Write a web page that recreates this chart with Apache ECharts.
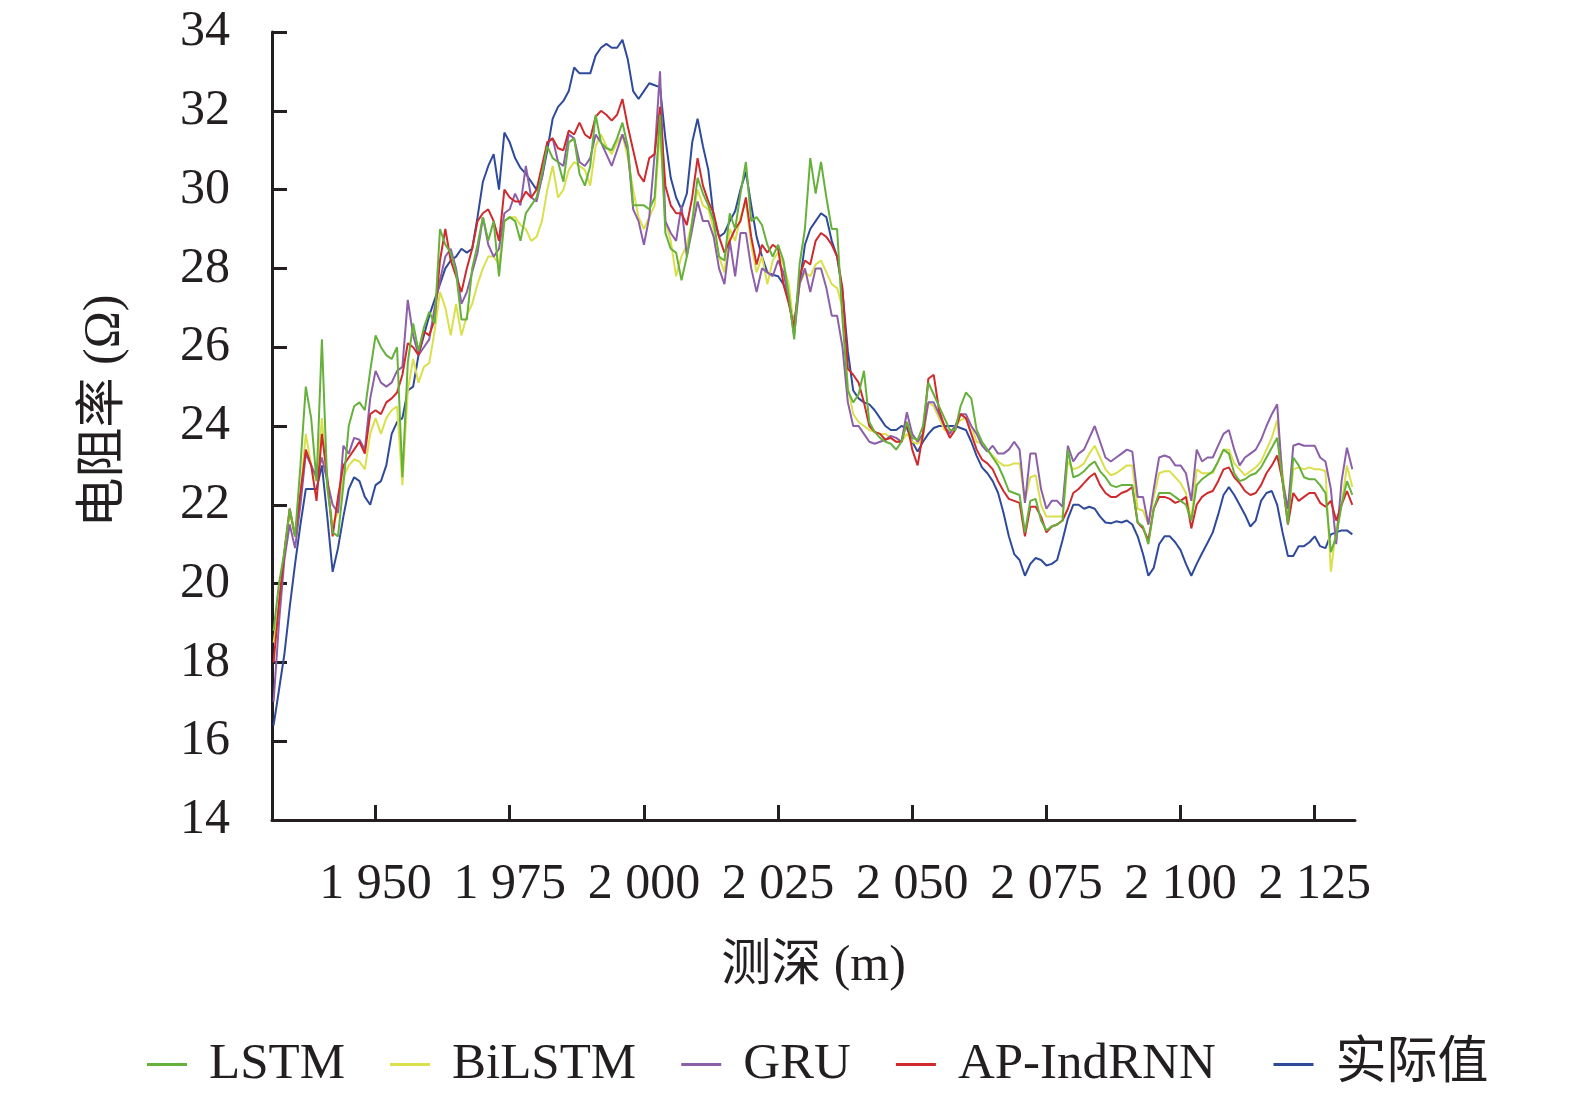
<!DOCTYPE html>
<html>
<head>
<meta charset="utf-8">
<script src="https://cdn.jsdelivr.net/npm/echarts@6/dist/echarts.min.js"></script>
<style>
  html, body { margin: 0; padding: 0; background: #fff; }
  #chart { width: 1575px; height: 1100px; }
</style>
</head>
<body>
<div id="chart"></div>
<script>
// depth samples run 1 m apart starting here
const startDepth = 1931
const xTicks = [1950, 1975, 2000, 2025, 2050, 2075, 2100, 2125]

const actual = [
  16.4, 17.3, 18.2, 19.4, 20.5, 21.5, 22.4, 22.4, 22.4, 23.0,
  21.7, 20.3, 20.9, 21.7, 22.4, 22.7, 22.6, 22.2, 22.0, 22.5,
  22.6, 23.0, 23.8, 24.1, 24.2, 24.9, 25.0, 25.8, 26.3, 26.8,
  27.2, 27.6, 28.0, 28.2, 28.3, 28.5, 28.4, 28.5, 29.3, 30.2,
  30.6, 30.9, 30.0, 31.45, 31.2, 30.8, 30.55, 30.4, 30.2, 30.0,
  30.3, 31.0, 31.8, 32.1, 32.25, 32.5, 33.1, 32.95, 32.95, 32.95,
  33.4, 33.6, 33.7, 33.6, 33.6, 33.8, 33.3, 32.5, 32.3, 32.5,
  32.7, 32.65, 32.6, 31.3, 30.3, 29.8, 29.5, 29.9, 31.2, 31.8,
  31.1, 30.5, 29.3, 28.8, 28.9, 29.2, 29.45, 30.0, 30.45, 29.6,
  28.8, 28.3, 27.9, 27.84, 27.8, 27.6, 27.2, 26.6, 27.6, 28.6,
  29.0, 29.2, 29.4, 29.3, 28.7, 28.3, 27.4, 25.9, 24.9, 24.7,
  24.6, 24.55, 24.4, 24.2, 24.0, 23.9, 23.9, 24.0, 23.95, 23.6,
  23.35, 23.6, 23.8, 23.95, 24.0, 24.0, 24.0, 24.0, 23.95, 23.9,
  23.6, 23.24, 22.95, 22.8, 22.6, 22.3, 21.8, 21.2, 20.75, 20.6,
  20.2, 20.5, 20.65, 20.6, 20.46, 20.5, 20.6, 21.1, 21.65, 22.0,
  22.0, 21.9, 21.95, 21.9, 21.7, 21.55, 21.53, 21.58, 21.55, 21.6,
  21.5, 21.2, 20.75, 20.2, 20.4, 21.0, 21.2, 21.2, 21.05, 20.85,
  20.5, 20.2, 20.5, 20.77, 21.03, 21.3, 21.75, 22.25, 22.45, 22.25,
  22.0, 21.75, 21.45, 21.6, 22.1, 22.3, 22.35, 22.0, 21.3, 20.7,
  20.7, 20.95, 20.95, 21.05, 21.2, 20.95, 20.9, 21.25, 21.3, 21.35,
  21.35, 21.25
]

const lstm = [
  18.8, 20.0, 20.8, 21.9, 21.2, 23.0, 25.0, 24.2, 22.6, 26.2,
  22.5, 21.3, 21.2, 22.5, 24.0, 24.5, 24.6, 24.4, 25.4, 26.3,
  26.0, 25.8, 25.7, 26.0, 22.7, 25.6, 26.6, 25.9, 26.5, 26.9,
  26.6, 29.0, 28.6, 28.4, 27.9, 26.7, 26.7, 28.0, 28.6, 29.3,
  28.7, 29.2, 27.8, 29.2, 29.3, 29.2, 28.7, 29.4, 29.6, 29.8,
  30.4, 31.1, 30.8, 30.7, 30.2, 31.2, 31.3, 30.4, 30.1, 30.6,
  31.9, 31.2, 31.05, 31.0, 31.3, 31.7, 31.1, 29.6, 29.6, 29.6,
  29.5, 29.8, 31.9, 28.9, 28.5, 28.4, 27.7, 28.3, 29.2, 30.3,
  29.9, 29.6, 29.2, 28.3, 28.2, 29.4, 29.0, 29.9, 30.7, 29.2,
  29.3, 29.1, 28.6, 28.3, 28.6, 28.2, 27.3, 26.2, 28.1, 29.0,
  30.8, 29.9, 30.7, 29.8, 29.0, 29.0, 26.7, 24.9, 24.6, 24.8,
  25.4, 24.1, 23.85, 23.7, 23.6, 23.55, 23.4, 23.6, 24.1, 23.7,
  23.65, 24.0, 25.1, 24.8, 24.5, 24.2, 23.9, 23.9, 24.5, 24.85,
  24.7, 23.9, 23.6, 23.4, 23.2, 23.0, 22.7, 22.35, 22.3, 22.25,
  21.3, 22.1, 22.15, 21.6, 21.35, 21.45, 21.5, 21.6, 23.4, 22.7,
  22.75, 22.85, 23.0, 23.1, 22.85, 22.7, 22.5, 22.45, 22.5, 22.5,
  22.5, 21.55, 21.45, 21.0, 21.9, 22.3, 22.3, 22.3, 22.2, 22.1,
  22.0, 21.6, 22.5, 22.65, 22.75, 22.85, 23.1, 23.4, 23.3, 22.8,
  22.6, 22.65, 22.75, 22.8, 22.95, 23.2, 23.45, 23.7, 22.6, 21.5,
  23.2, 23.0, 22.7, 22.65, 22.65, 22.5, 22.3, 20.8, 21.2, 22.0,
  22.6, 22.25
]

const bilstm = [
  18.5, 19.5, 20.8, 21.8, 21.2, 22.3, 23.8, 23.0, 22.6, 24.2,
  22.4, 21.5, 21.8, 22.7, 23.0, 23.15, 23.1, 22.9, 23.8, 24.2,
  23.8, 24.2, 24.4, 24.5, 22.5, 24.9, 25.7, 25.1, 25.5, 25.6,
  26.4, 27.4, 27.0, 26.3, 27.1, 26.3, 26.8, 27.1, 27.6, 28.0,
  28.3, 28.3, 28.1, 29.2, 29.3, 29.3, 29.1, 29.0, 28.7, 28.8,
  29.2, 30.0, 30.6, 29.8, 30.0, 30.5, 30.7, 30.6, 30.5, 30.1,
  31.1, 31.4, 31.1, 30.9, 31.2, 31.4, 30.8, 30.0, 29.3, 29.0,
  29.3, 29.6, 31.5, 29.2, 28.7, 27.8, 28.3, 28.6, 29.2, 30.0,
  29.6, 29.5, 29.0, 28.3, 27.9, 29.0, 28.7, 29.3, 29.7, 28.6,
  27.9, 28.3, 27.6, 28.2, 28.4, 28.1, 27.6, 26.4, 27.6, 27.9,
  27.8, 28.1, 28.2, 27.9, 27.6, 27.5, 27.0, 25.0, 24.3, 24.1,
  24.0, 23.9, 23.85, 23.8, 23.8, 23.7, 23.6, 23.6, 23.8, 23.6,
  23.55, 23.7, 24.6, 24.5, 24.2, 23.9, 23.85, 24.0, 24.15, 24.2,
  24.0, 23.6, 23.55, 23.4, 23.25, 23.1, 23.0, 23.0, 23.05, 23.05,
  22.1, 22.7, 22.75, 22.0, 21.7, 21.7, 21.7, 21.7, 23.1, 22.9,
  22.95, 23.05, 23.3, 23.5, 23.2, 22.9, 22.75, 22.8, 22.9, 23.0,
  23.0, 21.9, 21.85, 21.5, 22.2, 22.8, 22.85, 22.85, 22.7, 22.55,
  22.3, 21.6, 22.9, 22.8, 22.8, 22.8, 23.1, 23.4, 23.4, 23.05,
  22.9, 22.75, 22.85, 22.95, 23.1, 23.4, 23.7, 24.15, 22.8, 21.7,
  22.9, 22.95, 22.9, 22.95, 22.9, 22.9, 22.85, 20.3, 21.4, 22.0,
  23.0, 22.45
]

const gru = [
  17.0, 19.0, 20.6, 21.5, 20.9, 22.0, 23.3, 23.0, 22.7, 23.2,
  22.6, 22.0, 21.8, 23.5, 23.3, 23.7, 23.65, 23.4, 24.7, 25.4,
  25.1, 25.0, 25.1, 25.4, 25.5, 27.2, 26.3, 25.8, 26.0, 26.2,
  27.0, 27.7, 28.3, 28.5, 28.0, 27.1, 27.4, 27.9, 28.4, 29.3,
  28.6, 28.3, 28.5, 29.4, 29.5, 29.9, 29.6, 30.6, 29.8, 29.7,
  30.3, 31.2, 31.3, 30.7, 30.6, 31.4, 31.3, 30.7, 30.6, 30.8,
  31.4, 31.2, 30.9, 30.6, 31.0, 31.4, 31.0, 29.5, 29.2, 28.6,
  29.3, 30.9, 33.0, 29.2, 28.9, 28.7, 29.6, 28.3, 29.0, 29.7,
  29.2, 29.2, 28.8, 28.0, 27.6, 28.7, 27.8, 28.9, 28.9, 28.0,
  27.4, 28.0, 27.9, 27.8, 28.2, 27.9, 27.2, 26.3, 27.6, 28.0,
  27.4, 28.0, 28.0, 27.5, 26.8, 26.8, 26.0, 24.6, 24.0, 24.0,
  23.8, 23.6, 23.55, 23.6, 23.65, 23.75, 23.7, 23.6, 24.35, 23.8,
  23.6, 23.8, 24.6, 24.6, 24.3, 24.0, 23.8, 24.0, 24.3, 24.3,
  24.0, 23.8, 23.5, 23.35, 23.5, 23.3, 23.3, 23.4, 23.6, 23.4,
  22.05, 23.3, 23.3, 22.4, 21.9, 22.1, 22.1, 21.95, 23.5, 23.1,
  23.3, 23.4, 23.7, 24.0, 23.6, 23.2, 23.1, 23.2, 23.3, 23.4,
  23.35, 22.2, 22.2, 21.5, 22.4, 23.2, 23.25, 23.2, 23.0, 23.0,
  22.8, 22.1, 23.4, 23.1, 23.2, 23.2, 23.5, 23.8, 23.9, 23.4,
  23.0, 23.2, 23.3, 23.4, 23.65, 24.0, 24.3, 24.55, 22.6, 21.9,
  23.5, 23.55, 23.5, 23.5, 23.5, 23.2, 23.1, 22.4, 21.0, 22.6,
  23.45, 22.9
]

const apIndRnn = [
  18.0, 19.5, 20.8, 21.9, 21.2, 22.3, 23.4, 23.0, 22.1, 23.8,
  22.7, 21.2, 22.2, 23.0, 23.2, 23.4, 23.6, 23.3, 24.3, 24.4,
  24.3, 24.6, 24.7, 24.85, 25.3, 26.1, 26.0, 25.8, 26.4, 26.3,
  26.7, 28.2, 29.0, 28.2, 27.8, 27.4, 28.0, 28.5, 29.2, 29.4,
  29.5, 29.2, 28.7, 30.0, 29.8, 29.7, 29.7, 29.95, 29.8, 30.0,
  30.6, 31.2, 31.3, 31.05, 31.0, 31.5, 31.4, 31.7, 31.4, 31.3,
  31.85, 32.0, 31.9, 31.75, 31.9, 32.3, 31.6, 31.0, 30.4, 30.2,
  30.8, 30.9, 32.1, 30.1, 29.6, 29.4, 29.4, 29.1, 29.8, 30.8,
  30.1, 29.7, 29.4, 28.8, 28.4, 28.7, 29.0, 29.2, 29.8, 28.8,
  28.1, 28.6, 28.4, 28.6, 28.5, 27.6, 27.1, 26.5, 27.8, 28.2,
  28.1, 28.7, 28.9, 28.8, 28.6, 28.3, 27.5, 25.45, 25.3, 25.1,
  24.6, 24.0, 23.85, 23.8, 23.65, 23.7, 23.6, 23.6, 24.1, 23.4,
  23.0, 23.8, 25.2, 25.3, 24.4, 24.0, 23.7, 23.9, 24.3, 24.2,
  23.8, 23.4, 23.15, 23.05, 22.9, 22.6, 22.35, 22.15, 22.1, 22.05,
  21.2, 21.95, 21.95, 21.7, 21.3, 21.45, 21.5, 21.6, 21.9, 22.3,
  22.4, 22.55, 22.7, 22.8, 22.5, 22.3, 22.2, 22.2, 22.3, 22.35,
  22.45, 21.55, 21.4, 21.1, 21.9, 22.2, 22.2, 22.15, 22.05, 22.1,
  22.2, 21.4, 22.0, 22.2, 22.3, 22.35, 22.6, 22.9, 22.95, 22.7,
  22.55, 22.35, 22.25, 22.3, 22.5, 22.8, 23.0, 23.25, 22.6, 21.5,
  22.3, 22.1, 22.2, 22.3, 22.3, 22.05, 21.95, 22.1, 21.6, 22.0,
  22.35, 22.0
]

const seriesDefs = [
  { name: '实际值', data: actual, color: '#2f4a9a' },
  { name: 'BiLSTM', data: bilstm, color: '#d9e04c' },
  { name: 'GRU', data: gru, color: '#8c5fa8' },
  { name: 'AP-IndRNN', data: apIndRnn, color: '#cf2b2e' },
  { name: 'LSTM', data: lstm, color: '#66b03c' }
]

const font = '"Liberation Serif", "Times New Roman", "Noto Sans CJK SC", serif'
const ink = '#231f20'

function withDepth(values) {
  return values.map((v, i) => [startDepth + i, v])
}

function spaced(v) {
  return String(v).replace(/(\d)(\d{3})$/, '$1 $2')
}

const chart = echarts.init(document.getElementById('chart'))
chart.setOption({
  animation: false,
  backgroundColor: '#fff',
  grid: { left: 272, right: 220, top: 32, bottom: 280 },
  legend: {
    data: ['LSTM', 'BiLSTM', 'GRU', 'AP-IndRNN', '实际值'],
    left: 142,
    top: 1034,
    icon: 'rect',
    itemWidth: 40,
    itemHeight: 3,
    itemGap: 45,
    // the wider item in the source sits a little further apart
    formatter: name => name === 'AP-IndRNN' ? name + ' ' : name,
    textStyle: { fontFamily: font, fontSize: 51, color: ink, padding: [0, 0, 0, 17] }
  },
  xAxis: {
    type: 'value',
    min: 1930.7,
    max: 2132.5,
    name: '测深 (m)',
    nameLocation: 'middle',
    nameGap: 122,
    nameTextStyle: { fontFamily: font, fontSize: 50, color: ink },
    axisLine: { lineStyle: { color: ink, width: 3 } },
    axisTick: { inside: true, length: 15, lineStyle: { color: ink, width: 3 }, customValues: xTicks },
    axisLabel: { customValues: xTicks, formatter: spaced, fontFamily: font, fontSize: 50, color: ink, margin: 40 },
    splitLine: { show: false }
  },
  yAxis: {
    type: 'value',
    min: 14,
    max: 34,
    interval: 2,
    name: '电阻率 (Ω)',
    nameLocation: 'middle',
    nameGap: 142,
    nameTextStyle: { fontFamily: font, fontSize: 50, color: ink, padding: [0, 0, 0, 30] },
    axisLine: { show: true, lineStyle: { color: ink, width: 3 } },
    axisTick: { show: true, inside: true, length: 15, lineStyle: { color: ink, width: 3 } },
    axisLabel: { fontFamily: font, fontSize: 50, color: ink, margin: 42 },
    splitLine: { show: false }
  },
  series: seriesDefs.map(s => ({
    name: s.name,
    type: 'line',
    data: withDepth(s.data),
    symbol: 'none',
    color: s.color,
    lineStyle: { color: s.color, width: 2 }
  }))
})
</script>
</body>
</html>
